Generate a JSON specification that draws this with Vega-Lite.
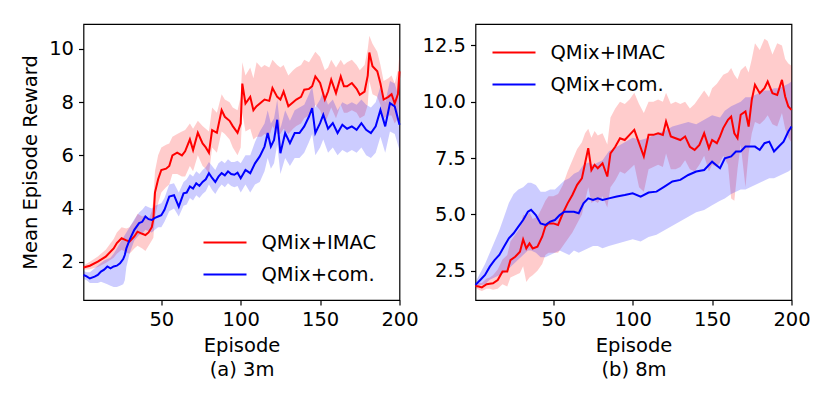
{
  "$schema": "https://vega.github.io/schema/vega-lite/v6.json",
  "description": "Mean episode reward of QMix+IMAC and QMix+com. on 3m and 8m, mean lines with shaded spread.",
  "padding": {"left": 18.5, "top": 23, "right": 5, "bottom": 5},
  "datasets": {
    "m3": [
      {"ep":1,"s":"QMix+IMAC","m":1.78,"lo":1.7,"hi":1.86},
      {"ep":5,"s":"QMix+IMAC","m":1.85,"lo":1.72,"hi":2.0},
      {"ep":10,"s":"QMix+IMAC","m":2.0,"lo":1.8,"hi":2.2},
      {"ep":15,"s":"QMix+IMAC","m":2.19,"lo":1.95,"hi":2.45},
      {"ep":20,"s":"QMix+IMAC","m":2.5,"lo":2.15,"hi":2.85},
      {"ep":22,"s":"QMix+IMAC","m":2.7,"lo":2.3,"hi":3.1},
      {"ep":25,"s":"QMix+IMAC","m":2.88,"lo":2.45,"hi":3.3},
      {"ep":28,"s":"QMix+IMAC","m":2.8,"lo":2.35,"hi":3.25},
      {"ep":30,"s":"QMix+IMAC","m":2.76,"lo":2.3,"hi":3.3},
      {"ep":33,"s":"QMix+IMAC","m":2.95,"lo":2.5,"hi":3.55},
      {"ep":35,"s":"QMix+IMAC","m":3.13,"lo":2.6,"hi":3.8},
      {"ep":38,"s":"QMix+IMAC","m":3.05,"lo":2.5,"hi":3.7},
      {"ep":40,"s":"QMix+IMAC","m":3.0,"lo":2.4,"hi":3.75},
      {"ep":42,"s":"QMix+IMAC","m":3.1,"lo":2.6,"hi":3.6},
      {"ep":44,"s":"QMix+IMAC","m":3.3,"lo":2.8,"hi":3.9},
      {"ep":45,"s":"QMix+IMAC","m":3.6,"lo":2.9,"hi":4.3},
      {"ep":46,"s":"QMix+IMAC","m":4.6,"lo":3.7,"hi":5.4},
      {"ep":48,"s":"QMix+IMAC","m":5.1,"lo":4.2,"hi":6.0},
      {"ep":50,"s":"QMix+IMAC","m":5.45,"lo":4.6,"hi":6.3},
      {"ep":53,"s":"QMix+IMAC","m":5.5,"lo":4.8,"hi":6.4},
      {"ep":55,"s":"QMix+IMAC","m":5.6,"lo":4.9,"hi":6.45},
      {"ep":57,"s":"QMix+IMAC","m":6.0,"lo":5.3,"hi":6.7},
      {"ep":60,"s":"QMix+IMAC","m":6.1,"lo":5.3,"hi":6.8},
      {"ep":63,"s":"QMix+IMAC","m":6.0,"lo":5.2,"hi":6.9},
      {"ep":65,"s":"QMix+IMAC","m":6.15,"lo":5.2,"hi":6.95},
      {"ep":68,"s":"QMix+IMAC","m":6.6,"lo":5.6,"hi":7.2},
      {"ep":70,"s":"QMix+IMAC","m":6.2,"lo":5.4,"hi":7.0},
      {"ep":73,"s":"QMix+IMAC","m":6.85,"lo":6.0,"hi":7.3},
      {"ep":76,"s":"QMix+IMAC","m":6.45,"lo":5.6,"hi":7.1},
      {"ep":78,"s":"QMix+IMAC","m":6.3,"lo":5.5,"hi":7.0},
      {"ep":80,"s":"QMix+IMAC","m":6.1,"lo":5.3,"hi":6.9},
      {"ep":82,"s":"QMix+IMAC","m":6.95,"lo":6.3,"hi":7.8},
      {"ep":85,"s":"QMix+IMAC","m":6.85,"lo":6.1,"hi":7.6},
      {"ep":88,"s":"QMix+IMAC","m":7.7,"lo":6.9,"hi":8.3},
      {"ep":90,"s":"QMix+IMAC","m":7.45,"lo":6.8,"hi":8.1},
      {"ep":93,"s":"QMix+IMAC","m":7.3,"lo":6.6,"hi":8.0},
      {"ep":95,"s":"QMix+IMAC","m":7.1,"lo":6.3,"hi":7.8},
      {"ep":98,"s":"QMix+IMAC","m":6.85,"lo":6.0,"hi":7.7},
      {"ep":100,"s":"QMix+IMAC","m":7.2,"lo":6.3,"hi":8.2},
      {"ep":101,"s":"QMix+IMAC","m":8.7,"lo":7.6,"hi":9.5},
      {"ep":103,"s":"QMix+IMAC","m":7.95,"lo":6.9,"hi":9.0},
      {"ep":106,"s":"QMix+IMAC","m":8.2,"lo":7.0,"hi":9.3},
      {"ep":108,"s":"QMix+IMAC","m":7.7,"lo":6.6,"hi":8.9},
      {"ep":110,"s":"QMix+IMAC","m":7.85,"lo":6.7,"hi":9.5},
      {"ep":113,"s":"QMix+IMAC","m":8.0,"lo":6.7,"hi":9.3},
      {"ep":115,"s":"QMix+IMAC","m":8.1,"lo":6.8,"hi":9.4},
      {"ep":118,"s":"QMix+IMAC","m":8.05,"lo":6.7,"hi":9.3},
      {"ep":120,"s":"QMix+IMAC","m":8.53,"lo":7.1,"hi":9.6},
      {"ep":123,"s":"QMix+IMAC","m":8.2,"lo":6.8,"hi":9.4},
      {"ep":125,"s":"QMix+IMAC","m":8.1,"lo":6.8,"hi":9.3},
      {"ep":127,"s":"QMix+IMAC","m":8.4,"lo":7.0,"hi":9.4},
      {"ep":130,"s":"QMix+IMAC","m":7.85,"lo":6.8,"hi":9.0},
      {"ep":133,"s":"QMix+IMAC","m":8.0,"lo":7.0,"hi":9.2},
      {"ep":135,"s":"QMix+IMAC","m":8.1,"lo":7.1,"hi":9.3},
      {"ep":138,"s":"QMix+IMAC","m":8.2,"lo":7.2,"hi":9.4},
      {"ep":140,"s":"QMix+IMAC","m":8.47,"lo":7.4,"hi":9.6},
      {"ep":143,"s":"QMix+IMAC","m":8.5,"lo":7.5,"hi":9.5},
      {"ep":145,"s":"QMix+IMAC","m":8.6,"lo":7.6,"hi":9.7},
      {"ep":147,"s":"QMix+IMAC","m":8.97,"lo":7.9,"hi":9.9},
      {"ep":150,"s":"QMix+IMAC","m":8.72,"lo":7.7,"hi":9.7},
      {"ep":153,"s":"QMix+IMAC","m":8.1,"lo":7.2,"hi":9.2},
      {"ep":155,"s":"QMix+IMAC","m":8.4,"lo":7.5,"hi":9.3},
      {"ep":157,"s":"QMix+IMAC","m":8.85,"lo":7.8,"hi":9.6},
      {"ep":160,"s":"QMix+IMAC","m":8.34,"lo":7.4,"hi":9.3},
      {"ep":163,"s":"QMix+IMAC","m":8.97,"lo":7.9,"hi":9.6},
      {"ep":165,"s":"QMix+IMAC","m":8.6,"lo":7.6,"hi":9.4},
      {"ep":167,"s":"QMix+IMAC","m":8.6,"lo":7.6,"hi":9.5},
      {"ep":170,"s":"QMix+IMAC","m":8.72,"lo":7.7,"hi":9.6},
      {"ep":173,"s":"QMix+IMAC","m":8.5,"lo":7.6,"hi":9.4},
      {"ep":175,"s":"QMix+IMAC","m":8.28,"lo":7.4,"hi":9.2},
      {"ep":178,"s":"QMix+IMAC","m":8.4,"lo":7.5,"hi":9.4},
      {"ep":180,"s":"QMix+IMAC","m":9.0,"lo":7.9,"hi":10.0},
      {"ep":181,"s":"QMix+IMAC","m":9.87,"lo":8.8,"hi":10.5},
      {"ep":183,"s":"QMix+IMAC","m":9.35,"lo":8.3,"hi":10.2},
      {"ep":186,"s":"QMix+IMAC","m":9.16,"lo":8.2,"hi":9.9},
      {"ep":188,"s":"QMix+IMAC","m":8.7,"lo":7.9,"hi":9.4},
      {"ep":190,"s":"QMix+IMAC","m":8.1,"lo":7.4,"hi":8.8},
      {"ep":193,"s":"QMix+IMAC","m":8.2,"lo":7.5,"hi":8.9},
      {"ep":195,"s":"QMix+IMAC","m":8.3,"lo":7.5,"hi":9.0},
      {"ep":197,"s":"QMix+IMAC","m":7.95,"lo":7.2,"hi":8.7},
      {"ep":199,"s":"QMix+IMAC","m":8.3,"lo":7.4,"hi":9.2},
      {"ep":200,"s":"QMix+IMAC","m":9.16,"lo":8.3,"hi":9.8},
      {"ep":1,"s":"QMix+com.","m":1.5,"lo":1.35,"hi":1.65},
      {"ep":3,"s":"QMix+com.","m":1.45,"lo":1.3,"hi":1.6},
      {"ep":5,"s":"QMix+com.","m":1.37,"lo":1.2,"hi":1.6},
      {"ep":8,"s":"QMix+com.","m":1.44,"lo":1.2,"hi":1.75},
      {"ep":10,"s":"QMix+com.","m":1.5,"lo":1.2,"hi":1.85},
      {"ep":12,"s":"QMix+com.","m":1.63,"lo":1.25,"hi":1.95},
      {"ep":14,"s":"QMix+com.","m":1.7,"lo":1.2,"hi":2.05},
      {"ep":16,"s":"QMix+com.","m":1.82,"lo":1.15,"hi":2.1},
      {"ep":18,"s":"QMix+com.","m":1.75,"lo":1.1,"hi":2.15},
      {"ep":20,"s":"QMix+com.","m":1.82,"lo":1.05,"hi":2.3},
      {"ep":22,"s":"QMix+com.","m":1.85,"lo":1.05,"hi":2.5},
      {"ep":24,"s":"QMix+com.","m":1.94,"lo":1.1,"hi":2.7},
      {"ep":26,"s":"QMix+com.","m":2.1,"lo":1.15,"hi":2.9},
      {"ep":27,"s":"QMix+com.","m":2.25,"lo":1.3,"hi":3.0},
      {"ep":28,"s":"QMix+com.","m":2.5,"lo":1.8,"hi":3.1},
      {"ep":30,"s":"QMix+com.","m":2.82,"lo":2.3,"hi":3.3},
      {"ep":33,"s":"QMix+com.","m":3.2,"lo":2.8,"hi":3.6},
      {"ep":36,"s":"QMix+com.","m":3.45,"lo":3.0,"hi":3.85},
      {"ep":38,"s":"QMix+com.","m":3.5,"lo":3.05,"hi":3.95},
      {"ep":40,"s":"QMix+com.","m":3.7,"lo":3.2,"hi":4.1},
      {"ep":42,"s":"QMix+com.","m":3.6,"lo":3.15,"hi":4.05},
      {"ep":44,"s":"QMix+com.","m":3.57,"lo":3.1,"hi":4.0},
      {"ep":46,"s":"QMix+com.","m":3.65,"lo":3.2,"hi":4.1},
      {"ep":48,"s":"QMix+com.","m":3.7,"lo":3.3,"hi":4.15},
      {"ep":50,"s":"QMix+com.","m":3.75,"lo":3.3,"hi":4.2},
      {"ep":52,"s":"QMix+com.","m":3.95,"lo":3.5,"hi":4.4},
      {"ep":55,"s":"QMix+com.","m":4.45,"lo":3.9,"hi":4.9},
      {"ep":58,"s":"QMix+com.","m":4.5,"lo":4.0,"hi":4.95},
      {"ep":61,"s":"QMix+com.","m":4.07,"lo":3.7,"hi":4.6},
      {"ep":64,"s":"QMix+com.","m":4.57,"lo":4.1,"hi":5.0},
      {"ep":66,"s":"QMix+com.","m":4.6,"lo":4.15,"hi":5.1},
      {"ep":68,"s":"QMix+com.","m":4.83,"lo":4.4,"hi":5.3},
      {"ep":70,"s":"QMix+com.","m":4.75,"lo":4.3,"hi":5.2},
      {"ep":72,"s":"QMix+com.","m":4.95,"lo":4.5,"hi":5.4},
      {"ep":74,"s":"QMix+com.","m":4.85,"lo":4.4,"hi":5.3},
      {"ep":76,"s":"QMix+com.","m":5.0,"lo":4.55,"hi":5.45},
      {"ep":78,"s":"QMix+com.","m":5.1,"lo":4.65,"hi":5.55},
      {"ep":80,"s":"QMix+com.","m":5.33,"lo":4.9,"hi":5.75},
      {"ep":82,"s":"QMix+com.","m":5.15,"lo":4.7,"hi":5.6},
      {"ep":84,"s":"QMix+com.","m":5.0,"lo":4.55,"hi":5.45},
      {"ep":86,"s":"QMix+com.","m":5.2,"lo":4.75,"hi":5.7},
      {"ep":88,"s":"QMix+com.","m":5.33,"lo":4.9,"hi":5.8},
      {"ep":90,"s":"QMix+com.","m":5.25,"lo":4.8,"hi":5.7},
      {"ep":92,"s":"QMix+com.","m":5.4,"lo":4.95,"hi":5.85},
      {"ep":94,"s":"QMix+com.","m":5.3,"lo":4.85,"hi":5.75},
      {"ep":96,"s":"QMix+com.","m":5.27,"lo":4.8,"hi":5.75},
      {"ep":98,"s":"QMix+com.","m":5.35,"lo":4.85,"hi":5.8},
      {"ep":100,"s":"QMix+com.","m":5.14,"lo":4.6,"hi":5.7},
      {"ep":103,"s":"QMix+com.","m":5.45,"lo":4.9,"hi":6.0},
      {"ep":106,"s":"QMix+com.","m":5.33,"lo":4.6,"hi":6.0},
      {"ep":109,"s":"QMix+com.","m":5.7,"lo":4.9,"hi":6.5},
      {"ep":112,"s":"QMix+com.","m":5.96,"lo":5.0,"hi":6.9},
      {"ep":115,"s":"QMix+com.","m":6.33,"lo":5.4,"hi":7.2},
      {"ep":117,"s":"QMix+com.","m":6.84,"lo":5.9,"hi":7.7},
      {"ep":119,"s":"QMix+com.","m":6.33,"lo":5.5,"hi":7.2},
      {"ep":121,"s":"QMix+com.","m":6.58,"lo":5.7,"hi":7.4},
      {"ep":123,"s":"QMix+com.","m":7.34,"lo":6.4,"hi":8.1},
      {"ep":125,"s":"QMix+com.","m":6.08,"lo":5.3,"hi":7.0},
      {"ep":128,"s":"QMix+com.","m":6.84,"lo":5.9,"hi":7.7},
      {"ep":131,"s":"QMix+com.","m":6.46,"lo":5.6,"hi":7.3},
      {"ep":134,"s":"QMix+com.","m":6.84,"lo":5.9,"hi":7.7},
      {"ep":137,"s":"QMix+com.","m":6.84,"lo":5.9,"hi":7.8},
      {"ep":140,"s":"QMix+com.","m":7.09,"lo":6.1,"hi":7.9},
      {"ep":143,"s":"QMix+com.","m":7.46,"lo":6.5,"hi":8.3},
      {"ep":145,"s":"QMix+com.","m":7.78,"lo":6.8,"hi":8.6},
      {"ep":147,"s":"QMix+com.","m":6.84,"lo":6.0,"hi":7.8},
      {"ep":150,"s":"QMix+com.","m":7.21,"lo":6.3,"hi":8.1},
      {"ep":152,"s":"QMix+com.","m":7.53,"lo":6.6,"hi":8.4},
      {"ep":155,"s":"QMix+com.","m":7.0,"lo":6.1,"hi":7.9},
      {"ep":158,"s":"QMix+com.","m":7.21,"lo":6.3,"hi":8.1},
      {"ep":161,"s":"QMix+com.","m":6.84,"lo":6.0,"hi":7.7},
      {"ep":164,"s":"QMix+com.","m":7.15,"lo":6.2,"hi":8.0},
      {"ep":167,"s":"QMix+com.","m":7.0,"lo":6.1,"hi":7.9},
      {"ep":170,"s":"QMix+com.","m":7.09,"lo":6.2,"hi":8.0},
      {"ep":173,"s":"QMix+com.","m":6.96,"lo":6.1,"hi":7.9},
      {"ep":176,"s":"QMix+com.","m":7.21,"lo":6.3,"hi":8.1},
      {"ep":179,"s":"QMix+com.","m":6.96,"lo":6.0,"hi":7.9},
      {"ep":182,"s":"QMix+com.","m":6.84,"lo":5.9,"hi":7.8},
      {"ep":185,"s":"QMix+com.","m":7.09,"lo":6.1,"hi":8.0},
      {"ep":188,"s":"QMix+com.","m":7.71,"lo":6.7,"hi":8.6},
      {"ep":191,"s":"QMix+com.","m":7.09,"lo":6.1,"hi":8.0},
      {"ep":194,"s":"QMix+com.","m":7.96,"lo":6.9,"hi":8.8},
      {"ep":197,"s":"QMix+com.","m":7.84,"lo":6.8,"hi":8.7},
      {"ep":200,"s":"QMix+com.","m":7.15,"lo":6.2,"hi":8.1}
    ],
    "m8": [
      {"ep":1,"s":"QMix+IMAC","m":1.82,"lo":1.72,"hi":1.92},
      {"ep":3,"s":"QMix+IMAC","m":1.8,"lo":1.65,"hi":1.95},
      {"ep":5,"s":"QMix+IMAC","m":1.76,"lo":1.6,"hi":1.95},
      {"ep":8,"s":"QMix+IMAC","m":1.9,"lo":1.7,"hi":2.15},
      {"ep":10,"s":"QMix+IMAC","m":1.92,"lo":1.7,"hi":2.2},
      {"ep":12,"s":"QMix+IMAC","m":1.94,"lo":1.65,"hi":2.3},
      {"ep":15,"s":"QMix+IMAC","m":2.09,"lo":1.7,"hi":2.55},
      {"ep":18,"s":"QMix+IMAC","m":2.46,"lo":1.9,"hi":3.0},
      {"ep":21,"s":"QMix+IMAC","m":2.46,"lo":1.8,"hi":3.2},
      {"ep":23,"s":"QMix+IMAC","m":2.97,"lo":2.2,"hi":3.8},
      {"ep":26,"s":"QMix+IMAC","m":3.12,"lo":2.3,"hi":4.1},
      {"ep":29,"s":"QMix+IMAC","m":3.34,"lo":2.4,"hi":4.4},
      {"ep":31,"s":"QMix+IMAC","m":3.89,"lo":2.7,"hi":5.0},
      {"ep":33,"s":"QMix+IMAC","m":3.49,"lo":2.0,"hi":4.9},
      {"ep":35,"s":"QMix+IMAC","m":3.71,"lo":2.2,"hi":5.1},
      {"ep":37,"s":"QMix+IMAC","m":3.49,"lo":2.3,"hi":4.8},
      {"ep":40,"s":"QMix+IMAC","m":3.57,"lo":2.5,"hi":4.9},
      {"ep":43,"s":"QMix+IMAC","m":4.01,"lo":2.8,"hi":5.3},
      {"ep":45,"s":"QMix+IMAC","m":4.46,"lo":3.2,"hi":5.6},
      {"ep":47,"s":"QMix+IMAC","m":4.6,"lo":3.3,"hi":5.8},
      {"ep":50,"s":"QMix+IMAC","m":4.6,"lo":3.3,"hi":5.8},
      {"ep":53,"s":"QMix+IMAC","m":4.53,"lo":3.3,"hi":5.9},
      {"ep":56,"s":"QMix+IMAC","m":5.05,"lo":3.6,"hi":6.3},
      {"ep":59,"s":"QMix+IMAC","m":5.49,"lo":3.9,"hi":6.9},
      {"ep":62,"s":"QMix+IMAC","m":5.86,"lo":4.2,"hi":7.4},
      {"ep":65,"s":"QMix+IMAC","m":6.31,"lo":4.6,"hi":7.9},
      {"ep":68,"s":"QMix+IMAC","m":6.6,"lo":5.0,"hi":8.2},
      {"ep":70,"s":"QMix+IMAC","m":7.27,"lo":5.6,"hi":8.6},
      {"ep":72,"s":"QMix+IMAC","m":7.94,"lo":6.2,"hi":8.8},
      {"ep":74,"s":"QMix+IMAC","m":6.97,"lo":5.5,"hi":8.4},
      {"ep":76,"s":"QMix+IMAC","m":7.2,"lo":5.6,"hi":8.7},
      {"ep":78,"s":"QMix+IMAC","m":7.05,"lo":5.5,"hi":8.5},
      {"ep":81,"s":"QMix+IMAC","m":7.27,"lo":5.8,"hi":8.6},
      {"ep":84,"s":"QMix+IMAC","m":6.68,"lo":5.3,"hi":8.1},
      {"ep":86,"s":"QMix+IMAC","m":7.71,"lo":6.2,"hi":9.3},
      {"ep":89,"s":"QMix+IMAC","m":8.0,"lo":6.5,"hi":9.7},
      {"ep":92,"s":"QMix+IMAC","m":8.38,"lo":6.9,"hi":10.0},
      {"ep":95,"s":"QMix+IMAC","m":8.3,"lo":6.8,"hi":9.9},
      {"ep":98,"s":"QMix+IMAC","m":8.53,"lo":7.0,"hi":10.1},
      {"ep":101,"s":"QMix+IMAC","m":8.75,"lo":7.2,"hi":10.4},
      {"ep":104,"s":"QMix+IMAC","m":8.16,"lo":6.2,"hi":9.9},
      {"ep":107,"s":"QMix+IMAC","m":7.57,"lo":6.0,"hi":9.5},
      {"ep":110,"s":"QMix+IMAC","m":8.53,"lo":7.0,"hi":10.0},
      {"ep":113,"s":"QMix+IMAC","m":8.53,"lo":7.1,"hi":10.0},
      {"ep":116,"s":"QMix+IMAC","m":8.6,"lo":7.2,"hi":10.1},
      {"ep":119,"s":"QMix+IMAC","m":8.53,"lo":7.1,"hi":10.0},
      {"ep":121,"s":"QMix+IMAC","m":9.12,"lo":7.7,"hi":10.4},
      {"ep":124,"s":"QMix+IMAC","m":8.46,"lo":7.0,"hi":9.9},
      {"ep":127,"s":"QMix+IMAC","m":8.38,"lo":7.0,"hi":10.0},
      {"ep":130,"s":"QMix+IMAC","m":8.3,"lo":7.1,"hi":9.9},
      {"ep":133,"s":"QMix+IMAC","m":8.46,"lo":7.4,"hi":10.0},
      {"ep":136,"s":"QMix+IMAC","m":8.0,"lo":7.0,"hi":9.7},
      {"ep":139,"s":"QMix+IMAC","m":7.86,"lo":6.9,"hi":9.9},
      {"ep":142,"s":"QMix+IMAC","m":8.08,"lo":7.2,"hi":10.2},
      {"ep":145,"s":"QMix+IMAC","m":8.6,"lo":7.6,"hi":10.5},
      {"ep":148,"s":"QMix+IMAC","m":7.94,"lo":6.9,"hi":10.2},
      {"ep":150,"s":"QMix+IMAC","m":8.3,"lo":7.2,"hi":10.6},
      {"ep":153,"s":"QMix+IMAC","m":8.16,"lo":7.1,"hi":10.8},
      {"ep":155,"s":"QMix+IMAC","m":8.46,"lo":7.3,"hi":11.0},
      {"ep":157,"s":"QMix+IMAC","m":8.83,"lo":7.6,"hi":11.2},
      {"ep":160,"s":"QMix+IMAC","m":9.2,"lo":7.2,"hi":11.3},
      {"ep":162,"s":"QMix+IMAC","m":9.34,"lo":5.7,"hi":11.5},
      {"ep":164,"s":"QMix+IMAC","m":8.6,"lo":5.6,"hi":11.2},
      {"ep":166,"s":"QMix+IMAC","m":8.38,"lo":7.0,"hi":11.0},
      {"ep":168,"s":"QMix+IMAC","m":9.42,"lo":8.1,"hi":11.4},
      {"ep":171,"s":"QMix+IMAC","m":9.57,"lo":6.2,"hi":11.6},
      {"ep":173,"s":"QMix+IMAC","m":8.9,"lo":7.7,"hi":11.3},
      {"ep":175,"s":"QMix+IMAC","m":10.09,"lo":8.6,"hi":11.9},
      {"ep":177,"s":"QMix+IMAC","m":10.75,"lo":9.1,"hi":12.6},
      {"ep":180,"s":"QMix+IMAC","m":10.38,"lo":9.0,"hi":12.3},
      {"ep":183,"s":"QMix+IMAC","m":10.6,"lo":9.2,"hi":12.8},
      {"ep":185,"s":"QMix+IMAC","m":10.9,"lo":9.4,"hi":12.7},
      {"ep":188,"s":"QMix+IMAC","m":10.38,"lo":9.0,"hi":12.1},
      {"ep":191,"s":"QMix+IMAC","m":10.3,"lo":8.9,"hi":12.6},
      {"ep":194,"s":"QMix+IMAC","m":10.97,"lo":9.5,"hi":12.5},
      {"ep":196,"s":"QMix+IMAC","m":10.23,"lo":8.8,"hi":11.9},
      {"ep":198,"s":"QMix+IMAC","m":9.79,"lo":8.4,"hi":11.7},
      {"ep":200,"s":"QMix+IMAC","m":9.64,"lo":8.2,"hi":11.6},
      {"ep":1,"s":"QMix+com.","m":1.87,"lo":1.75,"hi":2.0},
      {"ep":4,"s":"QMix+com.","m":2.09,"lo":1.85,"hi":2.4},
      {"ep":7,"s":"QMix+com.","m":2.31,"lo":1.9,"hi":2.8},
      {"ep":10,"s":"QMix+com.","m":2.68,"lo":2.1,"hi":3.3},
      {"ep":13,"s":"QMix+com.","m":2.97,"lo":2.2,"hi":3.8},
      {"ep":16,"s":"QMix+com.","m":3.2,"lo":2.3,"hi":4.3},
      {"ep":19,"s":"QMix+com.","m":3.57,"lo":2.4,"hi":4.9},
      {"ep":22,"s":"QMix+com.","m":3.94,"lo":2.6,"hi":5.5},
      {"ep":25,"s":"QMix+com.","m":4.16,"lo":2.8,"hi":5.9},
      {"ep":28,"s":"QMix+com.","m":4.46,"lo":3.0,"hi":6.1},
      {"ep":31,"s":"QMix+com.","m":4.75,"lo":3.2,"hi":6.2},
      {"ep":34,"s":"QMix+com.","m":5.12,"lo":3.4,"hi":6.4},
      {"ep":36,"s":"QMix+com.","m":5.2,"lo":3.4,"hi":6.4},
      {"ep":39,"s":"QMix+com.","m":4.97,"lo":3.3,"hi":6.3},
      {"ep":42,"s":"QMix+com.","m":4.6,"lo":3.1,"hi":6.0},
      {"ep":45,"s":"QMix+com.","m":4.53,"lo":3.1,"hi":6.0},
      {"ep":48,"s":"QMix+com.","m":4.68,"lo":3.2,"hi":6.1},
      {"ep":51,"s":"QMix+com.","m":4.75,"lo":3.3,"hi":6.1},
      {"ep":54,"s":"QMix+com.","m":4.97,"lo":3.4,"hi":6.3},
      {"ep":57,"s":"QMix+com.","m":5.12,"lo":3.3,"hi":6.5},
      {"ep":60,"s":"QMix+com.","m":5.12,"lo":3.2,"hi":6.6},
      {"ep":63,"s":"QMix+com.","m":5.12,"lo":3.4,"hi":6.8},
      {"ep":66,"s":"QMix+com.","m":5.05,"lo":3.3,"hi":6.9},
      {"ep":69,"s":"QMix+com.","m":5.49,"lo":3.4,"hi":7.2},
      {"ep":72,"s":"QMix+com.","m":5.71,"lo":3.5,"hi":7.3},
      {"ep":75,"s":"QMix+com.","m":5.64,"lo":3.6,"hi":7.2},
      {"ep":78,"s":"QMix+com.","m":5.71,"lo":3.6,"hi":7.3},
      {"ep":81,"s":"QMix+com.","m":5.64,"lo":3.5,"hi":7.4},
      {"ep":85,"s":"QMix+com.","m":5.71,"lo":3.6,"hi":7.8},
      {"ep":90,"s":"QMix+com.","m":5.79,"lo":3.7,"hi":8.0},
      {"ep":95,"s":"QMix+com.","m":5.86,"lo":3.8,"hi":8.2},
      {"ep":100,"s":"QMix+com.","m":5.94,"lo":3.9,"hi":8.4},
      {"ep":105,"s":"QMix+com.","m":5.79,"lo":3.8,"hi":8.3},
      {"ep":110,"s":"QMix+com.","m":5.97,"lo":4.0,"hi":8.4},
      {"ep":115,"s":"QMix+com.","m":6.01,"lo":4.1,"hi":8.6},
      {"ep":120,"s":"QMix+com.","m":6.23,"lo":4.3,"hi":8.7},
      {"ep":125,"s":"QMix+com.","m":6.46,"lo":4.5,"hi":8.9},
      {"ep":130,"s":"QMix+com.","m":6.53,"lo":4.7,"hi":9.0},
      {"ep":135,"s":"QMix+com.","m":6.75,"lo":4.9,"hi":9.1},
      {"ep":140,"s":"QMix+com.","m":6.9,"lo":5.1,"hi":9.0},
      {"ep":145,"s":"QMix+com.","m":6.97,"lo":5.2,"hi":9.2},
      {"ep":150,"s":"QMix+com.","m":7.34,"lo":5.4,"hi":9.4},
      {"ep":155,"s":"QMix+com.","m":7.05,"lo":5.6,"hi":9.3},
      {"ep":158,"s":"QMix+com.","m":7.49,"lo":5.7,"hi":9.6},
      {"ep":162,"s":"QMix+com.","m":7.57,"lo":5.9,"hi":9.8},
      {"ep":165,"s":"QMix+com.","m":7.79,"lo":6.0,"hi":9.9},
      {"ep":168,"s":"QMix+com.","m":7.79,"lo":6.1,"hi":10.0},
      {"ep":171,"s":"QMix+com.","m":8.01,"lo":6.1,"hi":10.2},
      {"ep":174,"s":"QMix+com.","m":8.01,"lo":6.2,"hi":10.2},
      {"ep":177,"s":"QMix+com.","m":8.01,"lo":6.3,"hi":10.3},
      {"ep":180,"s":"QMix+com.","m":7.86,"lo":6.4,"hi":10.4},
      {"ep":183,"s":"QMix+com.","m":8.16,"lo":6.5,"hi":10.5},
      {"ep":186,"s":"QMix+com.","m":8.23,"lo":6.6,"hi":10.5},
      {"ep":189,"s":"QMix+com.","m":7.79,"lo":6.6,"hi":10.6},
      {"ep":192,"s":"QMix+com.","m":8.01,"lo":6.7,"hi":10.6},
      {"ep":195,"s":"QMix+com.","m":8.23,"lo":6.8,"hi":10.7},
      {"ep":198,"s":"QMix+com.","m":8.68,"lo":6.9,"hi":10.8},
      {"ep":200,"s":"QMix+com.","m":8.9,"lo":7.0,"hi":10.9}
    ]
  },
  "hconcat": [
    {
      "width": 316,
      "height": 276,
      "data": {"name": "m3"},
      "layer": [
        {
          "transform": [{"filter": "datum.s === 'QMix+IMAC'"}],
          "mark": {"type": "area", "color": "#ff0000", "fillOpacity": 0.2},
          "encoding": {
            "x": {"field": "ep", "type": "quantitative"},
            "y": {"field": "lo", "type": "quantitative"},
            "y2": {"field": "hi"}
          }
        },
        {
          "transform": [{"filter": "datum.s === 'QMix+com.'"}],
          "mark": {"type": "area", "color": "#0000ff", "fillOpacity": 0.2},
          "encoding": {
            "x": {"field": "ep", "type": "quantitative"},
            "y": {"field": "lo", "type": "quantitative"},
            "y2": {"field": "hi"}
          }
        },
        {
          "mark": {"type": "line", "strokeWidth": 2},
          "encoding": {
            "x": {"field": "ep", "type": "quantitative",
              "scale": {"domain": [1, 200], "nice": false, "zero": false},
              "axis": {"values": [50, 100, 150, 200], "title": ["Episode", "(a) 3m"]}},
            "y": {"field": "m", "type": "quantitative",
              "scale": {"domain": [0.56, 10.94], "nice": false, "zero": false},
              "axis": {"values": [2, 4, 6, 8, 10], "title": "Mean Episode Reward",
                "minExtent": 34, "maxExtent": 34, "titlePadding": 9.5}},
            "stroke": {"field": "s", "type": "nominal",
              "scale": {"domain": ["QMix+IMAC", "QMix+com."], "range": ["#ff0000", "#0000ff"]},
              "legend": {"orient": "none", "legendX": 119, "legendY": 196}}
          }
        }
      ]
    },
    {
      "width": 316,
      "height": 276,
      "data": {"name": "m8"},
      "layer": [
        {
          "transform": [{"filter": "datum.s === 'QMix+IMAC'"}],
          "mark": {"type": "area", "color": "#ff0000", "fillOpacity": 0.2},
          "encoding": {
            "x": {"field": "ep", "type": "quantitative"},
            "y": {"field": "lo", "type": "quantitative"},
            "y2": {"field": "hi"}
          }
        },
        {
          "transform": [{"filter": "datum.s === 'QMix+com.'"}],
          "mark": {"type": "area", "color": "#0000ff", "fillOpacity": 0.2},
          "encoding": {
            "x": {"field": "ep", "type": "quantitative"},
            "y": {"field": "lo", "type": "quantitative"},
            "y2": {"field": "hi"}
          }
        },
        {
          "mark": {"type": "line", "strokeWidth": 2},
          "encoding": {
            "x": {"field": "ep", "type": "quantitative",
              "scale": {"domain": [1, 200], "nice": false, "zero": false},
              "axis": {"values": [50, 100, 150, 200], "title": ["Episode", "(b) 8m"]}},
            "y": {"field": "m", "type": "quantitative",
              "scale": {"domain": [1.2, 13.45], "nice": false, "zero": false},
              "axis": {"values": [2.5, 5, 7.5, 10, 12.5], "format": ".1f", "title": null,
                "minExtent": 56, "maxExtent": 56}},
            "stroke": {"field": "s", "type": "nominal",
              "scale": {"domain": ["QMix+IMAC", "QMix+com."], "range": ["#ff0000", "#0000ff"]},
              "legend": {"orient": "none", "legendX": 16, "legendY": 6}}
          }
        }
      ]
    }
  ],
  "spacing": 76,
  "bounds": "flush",
  "resolve": {
    "scale": {"stroke": "independent"},
    "legend": {"stroke": "independent"}
  },
  "config": {
    "font": "DejaVu Sans",
    "view": {"stroke": "black", "strokeWidth": 1.2},
    "axis": {
      "domain": false,
      "grid": false,
      "tickColor": "black",
      "tickSize": 5,
      "tickWidth": 1.2,
      "labelFontSize": 19.5,
      "labelColor": "black",
      "labelPadding": 5,
      "labelFlush": false,
      "titleFontSize": 19.5,
      "titleFontWeight": "normal",
      "titleColor": "black",
      "titleLineHeight": 24
    },
    "axisX": {"titlePadding": 8},
    "legend": {
      "title": null,
      "padding": 0,
      "symbolType": "stroke",
      "symbolSize": 1849,
      "symbolStrokeWidth": 2,
      "labelFontSize": 19.5,
      "labelColor": "black",
      "labelOffset": 14,
      "rowPadding": -2
    }
  }
}
